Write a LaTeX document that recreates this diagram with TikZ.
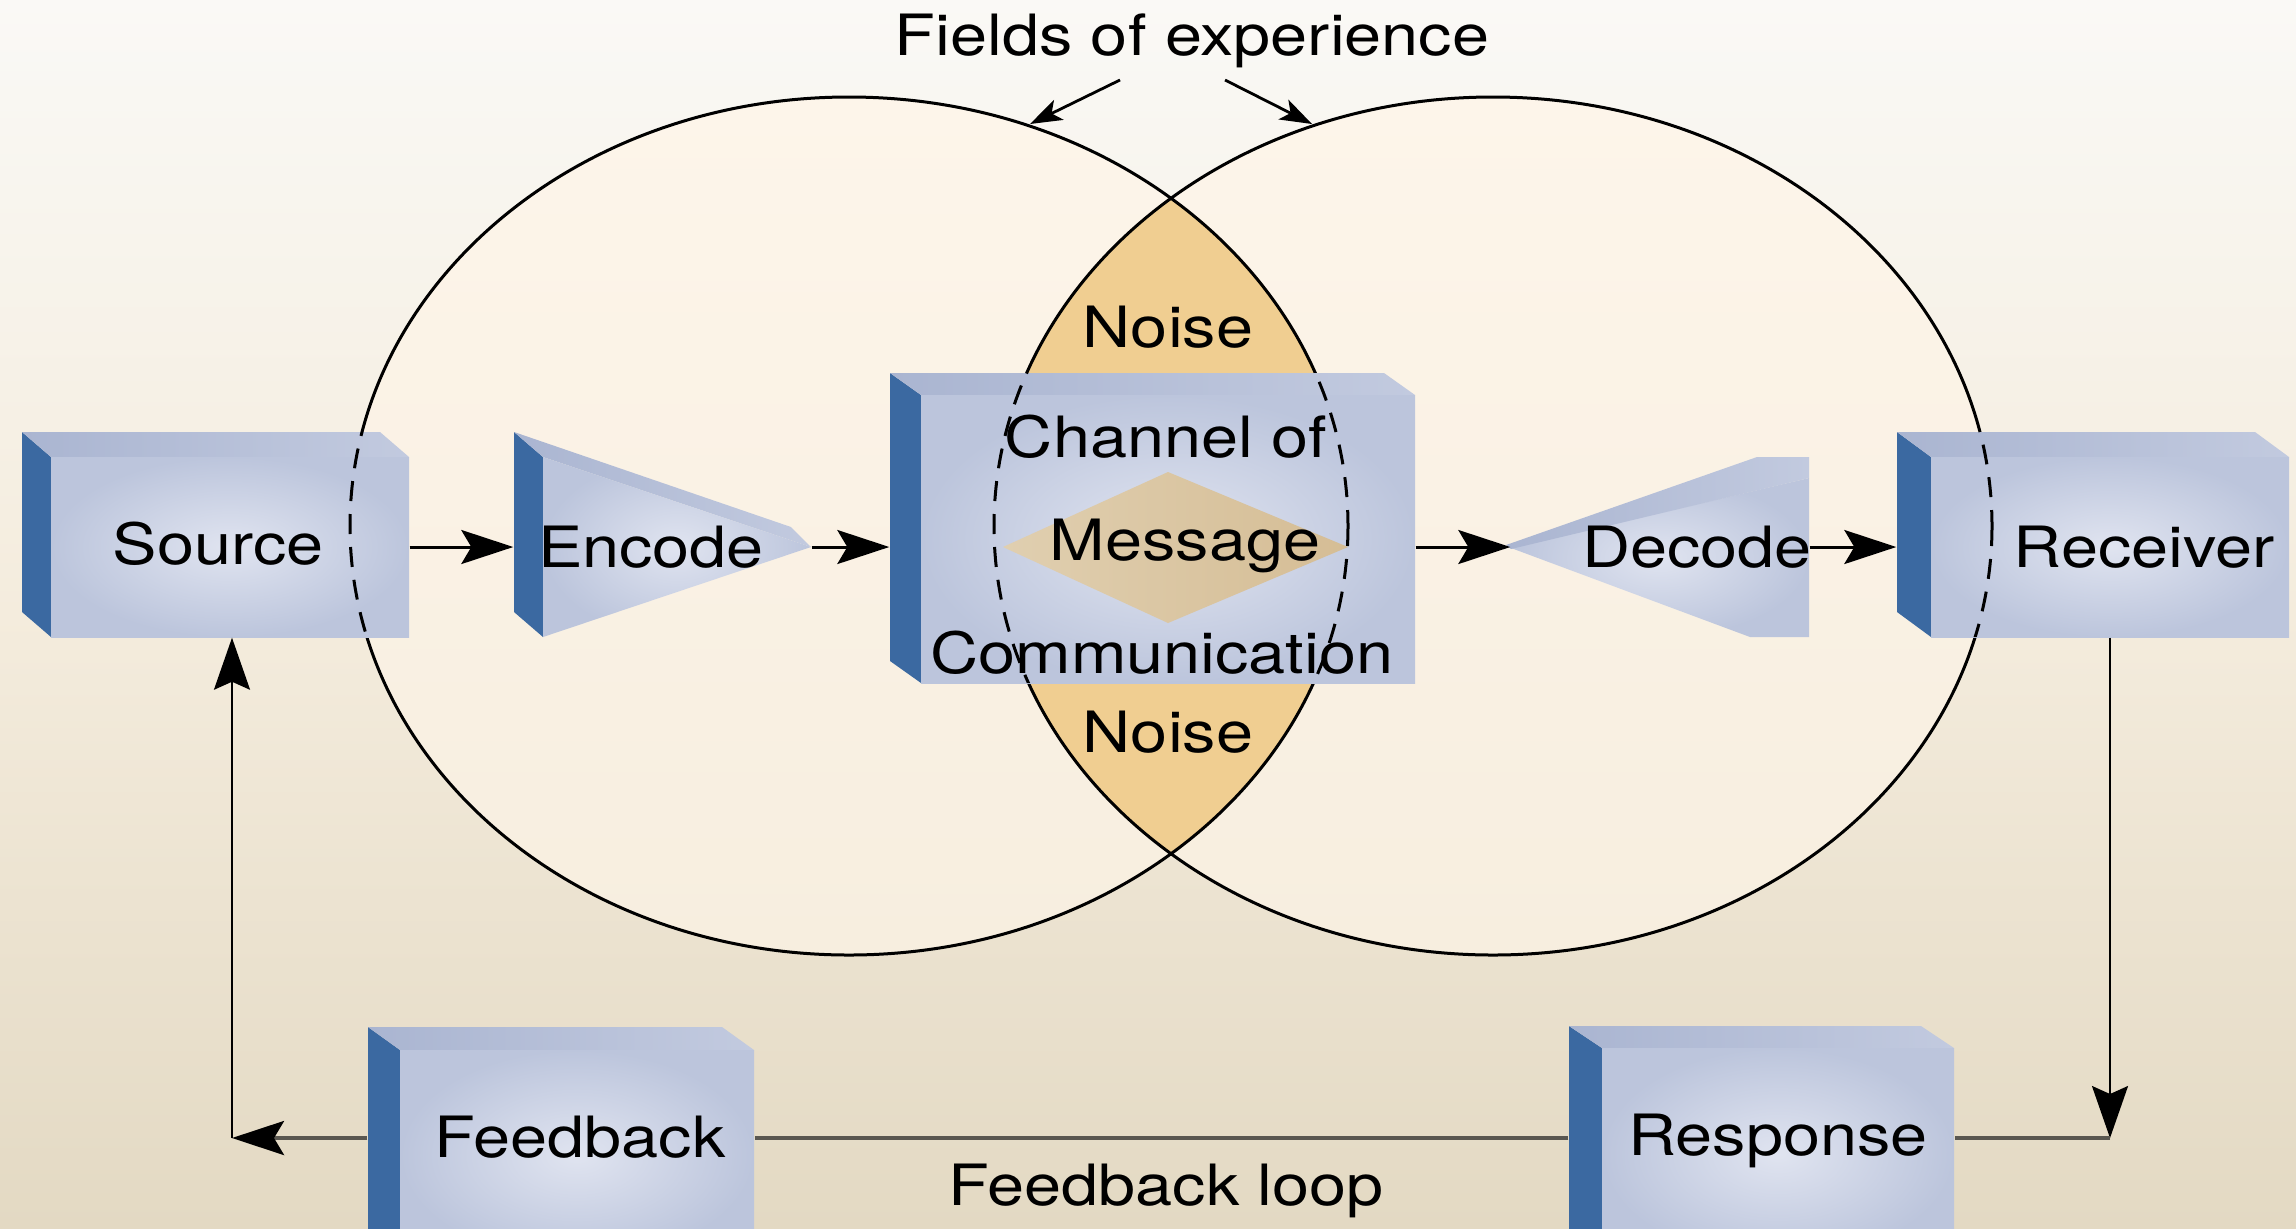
\documentclass[tikz,border=0pt]{standalone}
\usepackage{fontspec}
\setmainfont{TeX Gyre Heros}[FakeStretch=1.17]
\usetikzlibrary{arrows.meta,calc,fit}
\definecolor{bgtop}{HTML}{FAF9F6}
\definecolor{bgmid}{HTML}{F4ECDD}
\definecolor{bgbot}{HTML}{E3D9C3}
\definecolor{elltop}{HTML}{FDF5EA}
\definecolor{ellbot}{HTML}{F7EEDF}
\definecolor{lensc}{HTML}{F0CE91}
\definecolor{sidec}{HTML}{3B69A1}
\definecolor{topl}{HTML}{AAB5D1}
\definecolor{topr}{HTML}{C2CADF}
\definecolor{frin}{HTML}{E0E4F0}
\definecolor{frout}{HTML}{BCC5DC}
\definecolor{msgl}{HTML}{E0CFB0}
\definecolor{msgr}{HTML}{D5BD95}
\definecolor{loopc}{HTML}{5A5750}
\newcommand\tdbox[6]{%
  \fill[boxside] (#1-#5,#2-#6) -- (#1,#2) -- (#1,#4) -- (#1-#5,#4-#6) -- cycle;
  \shade[boxtop] (#1-#5,#2-#6) -- (#3-#5,#2-#6) -- (#3,#2) -- (#1,#2) -- cycle;
  \shade[boxfront] (#1,#2) rectangle (#3,#4);
}
\newcommand\dashover[7]{%
  \begin{scope}
  \clip (#1-#5,#2-#6) -- (#3-#5,#2-#6) -- (#3,#2) -- (#3,#4) -- (#1,#4) -- (#1-#5,#4-#6) -- cycle;
  #7
  \end{scope}
}
\begin{document}
\begin{tikzpicture}[x=0.1mm,y=-0.1mm,
  txt/.style={font=\fontsize{16.2}{19}\selectfont, inner sep=0pt, anchor=base},
  hit/.style={inner sep=0pt, draw=none},
  ring/.style={line width=0.3mm, draw=black},
  ringdash/.style={line width=0.3mm, draw=black, dash pattern=on 2mm off 1.3mm},
  arr/.style={line width=0.3mm, -{Stealth[length=5.2mm,width=3.4mm,inset=1mm]}},
  varr/.style={line width=0.22mm, -{Stealth[length=5.2mm,width=3.6mm,inset=0.8mm]}},
  loopline/.style={line width=0.4mm, draw=loopc},
  tarr/.style={line width=0.28mm, -{Stealth[length=3.2mm,width=2.2mm,inset=0.8mm]}},
  boxside/.style={fill=sidec},
  boxtop/.style={left color=topl, right color=topr},
  boxfront/.style={inner color=frin, outer color=frout},
]
\useasboundingbox (0,0) rectangle (2296,1228);
\clip (0,0) rectangle (2296,1228);
% background
\shade[top color=bgtop, bottom color=bgbot, middle color=bgmid] (0,0) rectangle (2296,1228);
% fields of experience
\shade[top color=elltop, bottom color=ellbot] (849,526) ellipse [x radius=499, y radius=429];
\shade[top color=elltop, bottom color=ellbot] (1493,526) ellipse [x radius=499, y radius=429];
\begin{scope}
  \clip (849,526) ellipse [x radius=499, y radius=429];
  \fill[lensc] (1493,526) ellipse [x radius=499, y radius=429];
\end{scope}
\draw[ring] (849,526) ellipse [x radius=499, y radius=429];
\draw[ring] (1493,526) ellipse [x radius=499, y radius=429];
\node[txt] (noise1) at (1168,347) {Noise};
\node[txt] (noise2) at (1168,752) {Noise};
% boxes
\tdbox{51}{457}{409}{637}{29}{25}
\tdbox{921}{395}{1415}{683}{31}{22}
\tdbox{1931}{457}{2289}{637}{34}{25}
\tdbox{400}{1050}{754}{1260}{32}{23}
\tdbox{1602}{1048}{1954}{1260}{33}{22}
% encode
\fill[boxside] (514,432) -- (543,457) -- (543,637) -- (514,612) -- cycle;
\shade[boxtop] (514,432) -- (791,527) -- (811,547) -- (543,457) -- cycle;
\shade[boxfront] (543,457) -- (811,547) -- (543,637) -- cycle;
% decode
\shade[boxfront] (1511,548) -- (1809,478) -- (1809,637) -- (1750,637) -- cycle;
\shade[boxtop] (1506,545) -- (1757,457) -- (1809,457) -- (1809,478) -- (1511,549) -- cycle;
% message diamond
\shade[left color=msgl, right color=msgr] (1003,547) -- (1168,472) -- (1348,547) -- (1168,623) -- cycle;
% dashed parts of the fields over the boxes
\dashover{51}{457}{409}{637}{29}{25}{\draw[ringdash] (849,526) ellipse [x radius=499, y radius=429];}
\dashover{921}{395}{1415}{683}{31}{22}{\draw[ringdash] (849,526) ellipse [x radius=499, y radius=429];
  \draw[ringdash] (1493,526) ellipse [x radius=499, y radius=429];}
\dashover{1931}{457}{2289}{637}{34}{25}{\draw[ringdash] (1493,526) ellipse [x radius=499, y radius=429];}
% hit boxes
\node[hit, fit={(22,457) (409,637)}] (src) {};
\node[hit, fit={(514,457) (811,637)}] (enc) {};
\node[hit, fit={(890,395) (1415,683)}] (chan) {};
\node[hit, fit={(1511,457) (1809,637)}] (dec) {};
\node[hit, fit={(1897,457) (2289,637)}] (rec) {};
\node[hit, fit={(1569,1048) (1954,1228)}] (resp) {};
\node[hit, fit={(368,1048) (754,1228)}] (fb) {};
% texts
\node[txt] (tsrc) at (218,564) {Source};
\node[txt] (tenc) at (651,567) {Encode};
\node[txt] (tch1) at (1166,457) {Channel of};
\node[txt] (tmsg) at (1185,560) {Message};
\node[txt] (tch2) at (1162,673) {Communication};
\node[txt] (tdec) at (1697,567) {Decode};
\node[txt] (trec) at (2144,567) {Receiver};
\node[txt] (tfb) at (580,1157) {Feedback};
\node[txt] (tresp) at (1778,1155) {Response};
\node[txt] (tloop) at (1166,1205) {Feedback loop};
\node[txt] (title) at (1192,55) {Fields of experience};
% connectors
\draw[arr] (src.east) -- (enc.west);
\draw[arr] (enc.east) -- (enc.east -| chan.west);
\draw[arr] (dec.west -| chan.east) -- (dec.west);
\draw[arr] (dec.east) -- (rec.west);
\coordinate (rc) at (2110,1138);
\coordinate (lc) at (232,1138);
\draw[varr] (rc |- rec.south) -- (rc);
\draw[loopline] (rc) -- (rc -| resp.east);
\draw[loopline] (resp.west) -- (resp.west -| fb.east);
\draw[loopline, -{Stealth[length=5.2mm,width=3.4mm,inset=1mm,color=black]}] (fb.west) -- (lc);
\draw[varr] (lc) -- (lc |- src.south);
% title pointers
\coordinate (fa1) at (1120,80);
\coordinate (fl) at (1030,124);
\coordinate (fa2) at (1225,80);
\coordinate (fr) at (1312,124);
\draw[tarr] (fa1) -- (fl);
\draw[tarr] (fa2) -- (fr);
\end{tikzpicture}
\end{document}
